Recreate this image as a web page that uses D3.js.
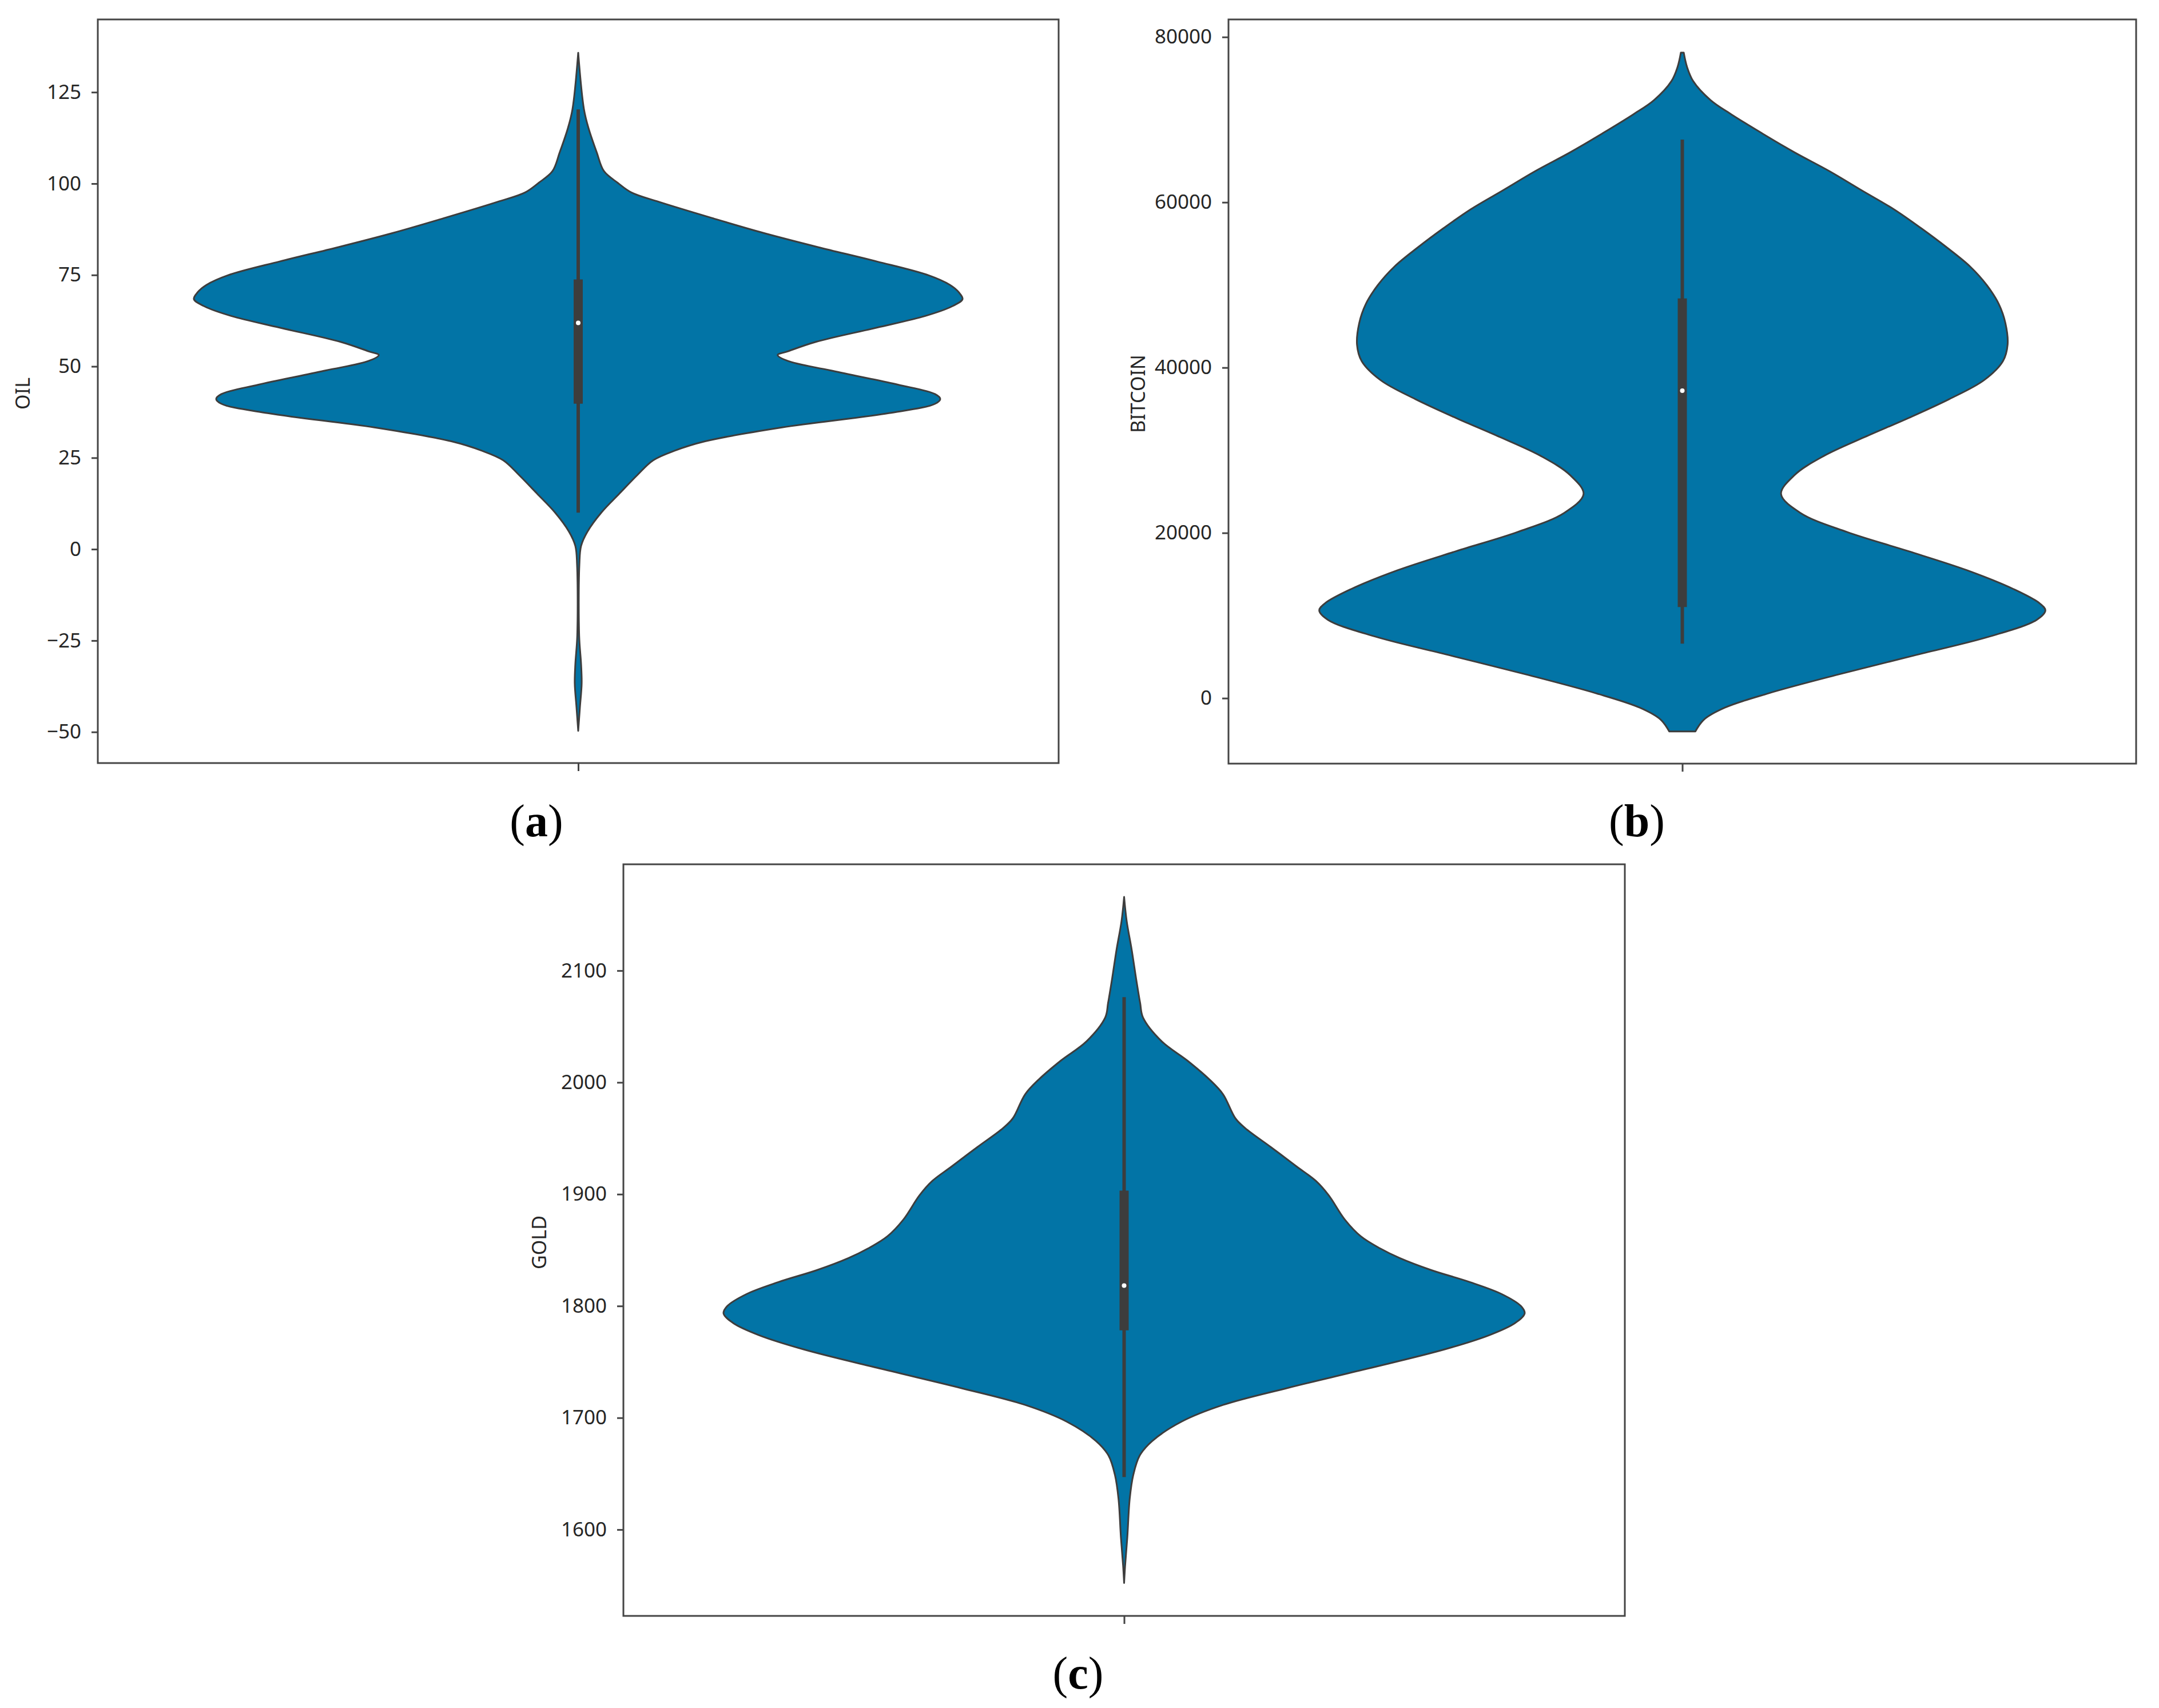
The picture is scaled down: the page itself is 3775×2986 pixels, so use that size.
<!DOCTYPE html>
<html>
<head>
<meta charset="utf-8">
<script src="https://cdn.jsdelivr.net/npm/d3@7"></script>
<style>
  html, body { margin: 0; padding: 0; background: #ffffff; }
  svg { display: block; }
</style>
</head>
<body>
<script>
// ---------------- DATA ----------------
// OIL: KDE outline (value, relative half-width)
const oilValues  = [-49.7, -43.2, -36.7, -31.5, -23.7, -4.3, 0.9, 4.8, 10.0, 15.2, 20.4, 24.3, 26.9, 29.5, 33.3, 37.2, 39.8, 41.1, 42.4, 45.0, 48.9, 51.5, 53.1, 54.1, 56.7, 60.6, 63.8, 66.4, 68.4, 70.3, 72.3, 74.9, 78.7, 82.6, 86.5, 90.4, 95.0, 97.6, 100.2, 103.4, 108.6, 115.1, 120.3, 135.8];
const oilDensity = [0, 0.0045, 0.009, 0.0075, 0.0025, 0.003, 0.0075, 0.024, 0.060, 0.107, 0.155, 0.195, 0.250, 0.330, 0.530, 0.808, 0.929, 0.942, 0.929, 0.832, 0.656, 0.545, 0.519, 0.545, 0.618, 0.777, 0.903, 0.972, 1.0, 0.990, 0.967, 0.912, 0.777, 0.625, 0.482, 0.354, 0.210, 0.138, 0.103, 0.067, 0.048, 0.027, 0.015, 0];
// [lower whisker, Q1, median, Q3, upper whisker]
const oilBox = [10.0, 39.8, 61.9, 73.8, 120.3];

// BITCOIN
const btcValues  = [-4020, -2580, -1150, 574, 2870, 5170, 7470, 9480, 10620, 11490, 13210, 15500, 17800, 20100, 22400, 24700, 26990, 29290, 31590, 33880, 36180, 38480, 40775, 42780, 45370, 47670, 49960, 52260, 54560, 56860, 59150, 61450, 63750, 66045, 68340, 70640, 72360, 74660, 76380, 78105];
const btcDensity = [0.036, 0.060, 0.117, 0.236, 0.430, 0.639, 0.847, 0.976, 1.0, 0.984, 0.912, 0.783, 0.622, 0.454, 0.326, 0.272, 0.309, 0.389, 0.502, 0.622, 0.735, 0.831, 0.883, 0.896, 0.890, 0.872, 0.839, 0.792, 0.728, 0.658, 0.583, 0.494, 0.406, 0.309, 0.220, 0.135, 0.078, 0.030, 0.013, 0.004];
const btcBox = [6600, 11030, 37215, 48360, 67600];

// GOLD
const goldValues  = [1552.2, 1567.3, 1593.1, 1627.6, 1649.1, 1666.3, 1679.2, 1696.5, 1711.5, 1726.6, 1743.8, 1761.1, 1774.0, 1784.8, 1793.4, 1799.8, 1810.6, 1821.4, 1832.1, 1842.9, 1851.5, 1862.3, 1877.3, 1898.9, 1911.8, 1924.7, 1942.0, 1959.2, 1967.8, 1989.4, 2002.3, 2019.5, 2036.7, 2058.2, 2071.1, 2092.7, 2118.5, 2144.4, 2165.9];
const goldDensity = [0, 0.0024, 0.008, 0.014, 0.023, 0.039, 0.070, 0.143, 0.247, 0.407, 0.606, 0.799, 0.912, 0.976, 1.0, 0.991, 0.943, 0.863, 0.767, 0.688, 0.639, 0.591, 0.551, 0.511, 0.479, 0.431, 0.367, 0.302, 0.278, 0.247, 0.214, 0.158, 0.094, 0.047, 0.040, 0.030, 0.019, 0.0064, 0];
const goldBox = [1647, 1778.3, 1818.3, 1903.2, 2076.3];

// tick labels
const oilTicks  = [-50, -25, 0, 25, 50, 75, 100, 125];
const btcTicks  = [0, 20000, 40000, 60000, 80000];
const goldTicks = [1600, 1700, 1800, 1900, 2000, 2100];

const yLabels  = ["OIL", "BITCOIN", "GOLD"];
const captions = ["a", "b", "c"];

// ---------------- LAYOUT ----------------
const W = 3775, H = 2986;
const panels = [
  { values: oilValues,  density: oilDensity,  box: oilBox,  ticks: oilTicks,  domain: [-58.5, 144.9],
    left: 171, right: 1851, top: 34, bottom: 1334, labelX: 43, capX: 938, capY: 1462 },
  { values: btcValues,  density: btcDensity,  box: btcBox,  ticks: btcTicks,  domain: [-7917, 82126],
    left: 2148, right: 3735, top: 34, bottom: 1335, labelX: 1993, capX: 2862, capY: 1462 },
  { values: goldValues, density: goldDensity, box: goldBox, ticks: goldTicks, domain: [1522.8, 2195.1],
    left: 1090, right: 2841, top: 1511, bottom: 2825, labelX: 946, capX: 1885, capY: 2952 }
];

const violinFill = "#0274a6";
const darkGray = "#3d3d3d";
const frameColor = "#454545";
const textColor = "#262626";

const svg = d3.select("body").append("svg")
  .attr("width", W).attr("height", H)
  .attr("viewBox", `0 0 ${W} ${H}`);

svg.append("rect").attr("width", W).attr("height", H).attr("fill", "#fff");

panels.forEach((p, i) => {
  const x = d3.scaleLinear().domain([-0.5, 0.5]).range([p.left, p.right]);
  const y = d3.scaleLinear().domain(p.domain).range([p.bottom, p.top]);
  const g = svg.append("g");

  const pts = p.values.map((v, k) => ({ v, d: p.density[k] })).sort((a, b) => a.v - b.v);

  const area = d3.area()
    .y(d => y(d.v))
    .x0(d => x(-0.4 * d.d))
    .x1(d => x(0.4 * d.d))
    .curve(d3.curveCatmullRom.alpha(0.5));

  g.append("path")
    .attr("d", area(pts))
    .attr("fill", violinFill)
    .attr("stroke", darkGray)
    .attr("stroke-width", 3)
    .attr("stroke-linejoin", "round");

  // inner box
  const [wl, q1, med, q3, wh] = p.box;
  g.append("line")
    .attr("x1", x(0)).attr("x2", x(0))
    .attr("y1", y(wl)).attr("y2", y(wh))
    .attr("stroke", darkGray).attr("stroke-width", 6);
  g.append("line")
    .attr("x1", x(0)).attr("x2", x(0))
    .attr("y1", y(q1)).attr("y2", y(q3))
    .attr("stroke", darkGray).attr("stroke-width", 16);
  g.append("circle")
    .attr("cx", x(0)).attr("cy", y(med)).attr("r", 4)
    .attr("fill", "#ffffff");

  // frame
  g.append("rect")
    .attr("x", p.left).attr("y", p.top)
    .attr("width", p.right - p.left).attr("height", p.bottom - p.top)
    .attr("fill", "none").attr("stroke", frameColor).attr("stroke-width", 3);

  // y axis
  const yAxis = d3.axisLeft(y).tickValues(p.ticks).tickSize(11).tickPadding(18)
    .tickFormat(d3.format("d"));
  const ag = g.append("g").attr("transform", `translate(${p.left},0)`).call(yAxis);
  ag.select(".domain").remove();
  ag.selectAll(".tick line").attr("stroke", frameColor).attr("stroke-width", 3);
  ag.selectAll(".tick text")
    .attr("fill", textColor)
    .style("font-family", "'Noto Sans', 'Open Sans', sans-serif")
    .style("font-size", "35px");

  // x axis tick (single, unlabeled)
  const xAxis = d3.axisBottom(x).tickValues([0]).tickSize(14).tickFormat(() => "");
  const xg = g.append("g").attr("transform", `translate(0,${p.bottom})`).call(xAxis);
  xg.select(".domain").remove();
  xg.selectAll(".tick line").attr("stroke", frameColor).attr("stroke-width", 3);

  // y label
  const cy = (p.top + p.bottom) / 2 + 4;
  g.append("text")
    .attr("transform", `translate(${p.labelX},${cy}) rotate(-90)`)
    .attr("text-anchor", "middle")
    .attr("dominant-baseline", "middle")
    .attr("fill", textColor)
    .style("font-family", "'Noto Sans', 'Open Sans', sans-serif")
    .style("font-size", "34px")
    .text(yLabels[i]);

  // caption (a)/(b)/(c)
  const t = svg.append("text")
    .attr("x", p.capX).attr("y", p.capY)
    .attr("text-anchor", "middle")
    .attr("fill", "#000")
    .style("font-family", "'Liberation Serif', 'DejaVu Serif', serif")
    .style("font-size", "80px");
  t.append("tspan").text("(");
  t.append("tspan").style("font-weight", "bold").text(captions[i]);
  t.append("tspan").text(")");
});
</script>
</body>
</html>
